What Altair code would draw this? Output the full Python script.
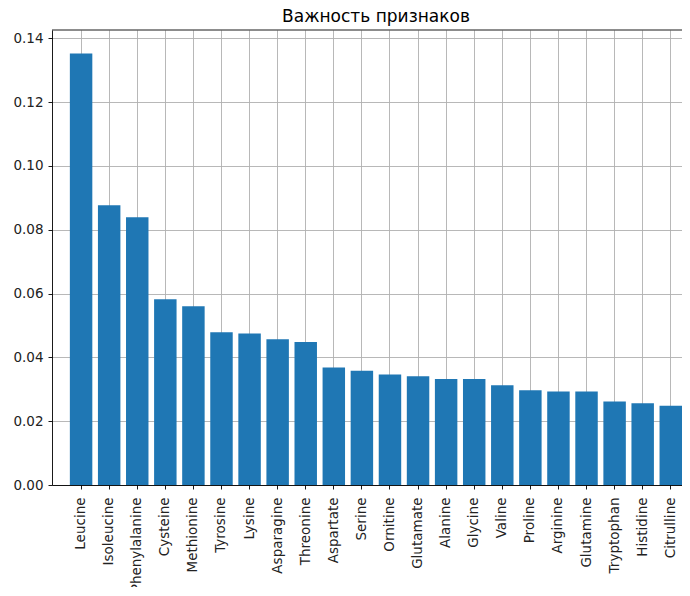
import altair as alt
import pandas as pd

features = ["Leucine", "Isoleucine", "Phenylalanine", "Cysteine", "Methionine",
            "Tyrosine", "Lysine", "Asparagine", "Threonine", "Aspartate", "Serine",
            "Ornitine", "Glutamate", "Alanine", "Glycine", "Valine", "Proline",
            "Arginine", "Glutamine", "Tryptophan", "Histidine", "Citrulline"]
importance = [0.1352, 0.0877, 0.0839, 0.0582, 0.0560, 0.0479, 0.0475, 0.0457,
              0.0448, 0.0368, 0.0358, 0.0346, 0.0341, 0.0332, 0.0332, 0.0313,
              0.0297, 0.0293, 0.0293, 0.0262, 0.0256, 0.0248]
y_ticks = [0.0, 0.02, 0.04, 0.06, 0.08, 0.10, 0.12, 0.14]

df = pd.DataFrame({"feature": features, "importance": importance})

FONT = "DejaVu Sans"
W, H = 630, 455

bars = alt.Chart(df).mark_bar(color="#1f77b4").encode(
    x=alt.X("feature:N", sort=features,
            scale=alt.Scale(paddingInner=0.2, paddingOuter=0.318, align=1),
            axis=alt.Axis(title=None, labelAngle=270, labelAlign="right",
                          labelBaseline="middle", labelPadding=8, tickSize=4,
                          bandPosition=0.5, grid=True, labelFontSize=13.5)),
    y=alt.Y("importance:Q", scale=alt.Scale(domain=[0, 0.1426], nice=False, zero=True),
            axis=alt.Axis(title=None, values=y_ticks, format=".2f", tickSize=4,
                          labelPadding=5, grid=True, labelFontSize=13.5)),
)

# top frame line (matplotlib spine), drawn once
top_spine = alt.Chart(pd.DataFrame({"k": [0]})).mark_rule(
    color="#000", strokeWidth=0.9
).encode(x=alt.value(0), x2=alt.value(W), y=alt.value(0))

chart = alt.layer(bars, top_spine).properties(
    width=W,
    height=H,
    title=alt.TitleParams("Важность признаков", fontSize=17, font=FONT,
                          fontWeight="normal", color="#000", anchor="middle",
                          baseline="alphabetic", offset=5, dx=9, dy=14),
    autosize=alt.AutoSizeParams(type="none"),
    padding={"left": 44, "top": 22, "right": 0, "bottom": 102},
).configure_axis(
    labelFont=FONT, labelColor="#222", domainColor="#000", domainWidth=0.9,
    tickColor="#000", tickWidth=0.9, gridColor="#b0b0b0", gridWidth=0.9,
    zindex=1,
).configure_view(
    strokeWidth=0,
)

chart.save("out.html", embed_options={"renderer": "svg", "actions": False})
